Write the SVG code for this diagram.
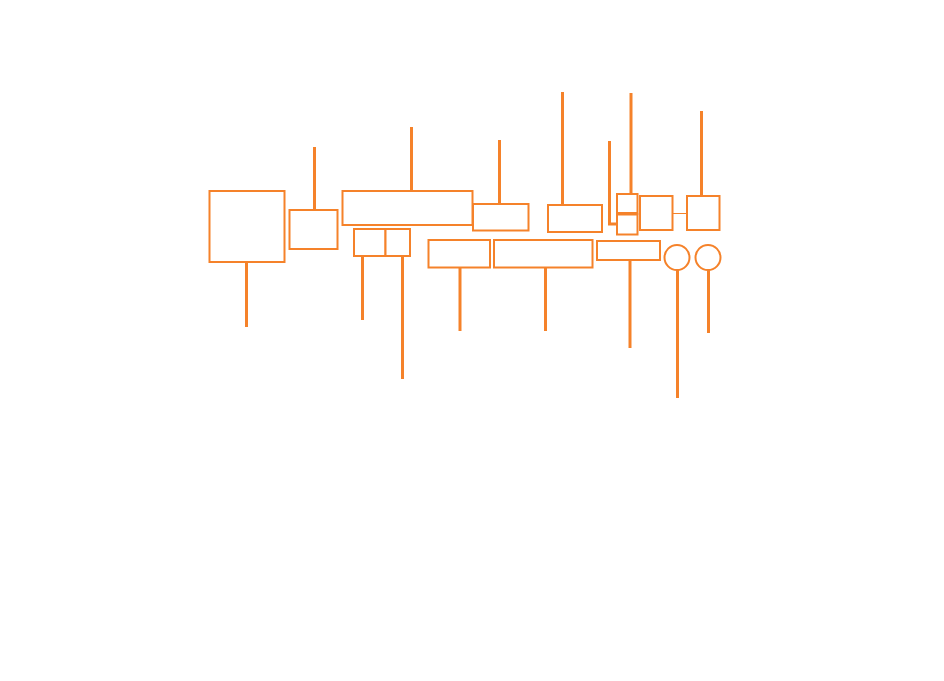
<svg xmlns="http://www.w3.org/2000/svg" width="944" height="681" viewBox="0 0 944 681">
<style>
.n{fill:#fff;stroke:#F5822A;stroke-width:2}
.c{stroke:#F5822A;stroke-width:3;fill:none}
.t{stroke:#F5822A;stroke-width:1;fill:none}
</style>
<rect width="944" height="681" fill="#fff"/>
<g id="connectors">
<line class="c" x1="246.5" y1="262" x2="246.5" y2="327"/>
<line class="c" x1="314.5" y1="147" x2="314.5" y2="210"/>
<line class="c" x1="411.5" y1="127" x2="411.5" y2="191"/>
<line class="c" x1="362.5" y1="256" x2="362.5" y2="320"/>
<line class="c" x1="402.5" y1="256" x2="402.5" y2="379"/>
<line class="c" x1="499.5" y1="140" x2="499.5" y2="204"/>
<line class="c" x1="562.5" y1="92" x2="562.5" y2="205"/>
<polyline class="c" points="609.5,141 609.5,224 618,224"/>
<line class="c" x1="631" y1="93" x2="631" y2="194"/>
<line class="c" x1="460" y1="268" x2="460" y2="331"/>
<line class="c" x1="545.5" y1="268" x2="545.5" y2="331"/>
<line class="c" x1="630" y1="260" x2="630" y2="348"/>
<line class="t" x1="673" y1="213.5" x2="687" y2="213.5"/>
<line class="c" x1="701.5" y1="111" x2="701.5" y2="196"/>
<line class="c" x1="677.5" y1="270" x2="677.5" y2="398"/>
<line class="c" x1="708.5" y1="270" x2="708.5" y2="333"/>
</g>
<g id="n1"><rect class="n" x="209.5" y="191" width="75" height="71"/></g>
<g id="n2"><rect class="n" x="289.5" y="210" width="48" height="39"/></g>
<g id="n3"><rect class="n" x="342.5" y="191" width="130" height="34"/></g>
<g id="n4"><rect class="n" x="354" y="229" width="31.5" height="27"/></g>
<g id="n5"><rect class="n" x="385.5" y="229" width="24.5" height="27"/></g>
<g id="n6"><rect class="n" x="473" y="204" width="55.5" height="26.5"/></g>
<g id="n7"><rect class="n" x="548" y="205" width="54" height="27"/></g>
<g id="n8"><rect class="n" x="428.5" y="240" width="61.5" height="27.5"/></g>
<g id="n9"><rect class="n" x="494" y="240" width="98.5" height="27.5"/></g>
<g id="n10"><rect class="n" x="597" y="241" width="63" height="19"/></g>
<g id="n11"><rect class="n" x="617" y="194" width="20.5" height="19.5"/></g>
<g id="n12"><rect class="n" x="617" y="214.5" width="20.5" height="20"/><line class="c" x1="617" y1="213.5" x2="637.5" y2="213.5"/></g>
<g id="n13"><rect class="n" x="640" y="196" width="32.5" height="34"/></g>
<g id="n14"><rect class="n" x="687" y="196" width="32.5" height="34"/></g>
<g id="n15"><circle class="n" cx="677" cy="257.5" r="12.5"/></g>
<g id="n16"><circle class="n" cx="708" cy="257.5" r="12.5"/></g>
</svg>
